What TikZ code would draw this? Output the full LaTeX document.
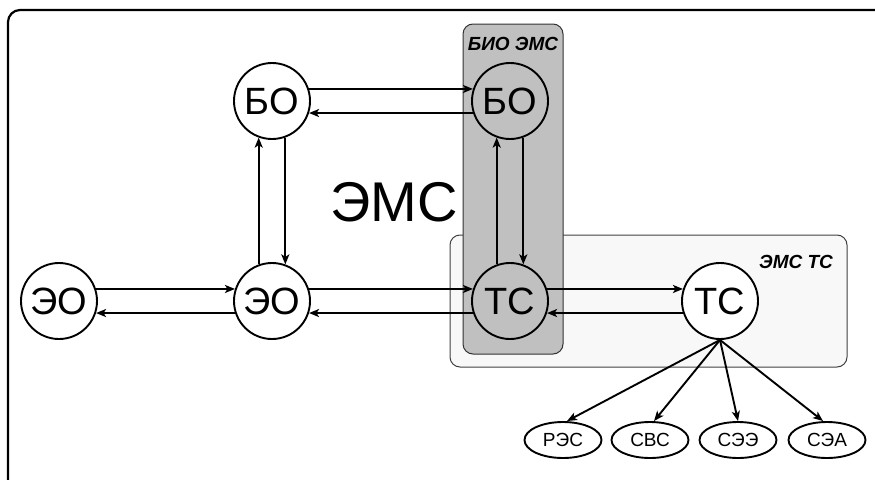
\documentclass[tikz,border=0pt]{standalone}
\usepackage{fontspec}
\setmainfont{Liberation Sans}
\usetikzlibrary{arrows.meta,shapes.geometric}
\definecolor{boxgray}{RGB}{192,192,192}
\definecolor{boxlight}{RGB}{248,248,248}
\begin{document}
\begin{tikzpicture}[x=1pt,y=-1pt,
  circ/.style={circle,draw,line width=1.9pt,minimum size=76pt,inner sep=0pt,font=\fontsize{38}{38}\selectfont},
  ell/.style={ellipse,draw,fill=white,line width=1.9pt,minimum width=77pt,minimum height=36pt,inner sep=0pt,font=\fontsize{19}{19}\selectfont},
  arr/.style={line width=1.9pt,-{Stealth[length=10pt,width=8pt,inset=2.5pt]}},
  lbl/.style={font=\fontsize{19}{19}\selectfont\bfseries\itshape,inner sep=0pt}
]
\useasboundingbox (0,0) rectangle (875,479);
\begin{scope}
\clip (0,0) rectangle (875,479);
\draw[line width=2.2pt, rounded corners=12pt] (8,10) rectangle (900,500);
\end{scope}
\draw[fill=boxlight, draw=black!75, line width=1pt, rounded corners=10pt] (450,235) rectangle (847,367);
\draw[fill=boxgray, draw=black!80, line width=1pt, rounded corners=10pt] (463,24) rectangle (563,354);

\node[lbl] (lbio) at (513,44) {БИО ЭМС};
\node[lbl] (lemstc) at (796,262) {ЭМС ТС};
\node[font=\fontsize{56}{56}\selectfont, inner sep=0pt] (ems) at (394,202) {ЭМС};

\node[circ,fill=white] (BO1) at (272,101) {БО};
\node[circ] (BO2) at (510,101) {БО};
\node[circ] (TC1) at (510,301) {ТС};
\node[circ,fill=white] (TC2) at (720,301) {ТС};
\node[circ,fill=white] (EO1) at (59,301) {ЭО};
\node[circ,fill=white] (EO2) at (272,301) {ЭО};

\node[ell] (E1) at (563,440) {РЭС};
\node[ell] (E2) at (650,440) {СВС};
\node[ell] (E3) at (738,440) {СЭЭ};
\node[ell] (E4) at (827,440) {СЭА};

% horizontal pairs
\draw[arr] (BO1.18) -- (BO2.162);
\draw[arr] (BO2.198) -- (BO1.342);
\draw[arr] (EO1.18) -- (EO2.162);
\draw[arr] (EO2.198) -- (EO1.342);
\draw[arr] (EO2.18) -- (TC1.162);
\draw[arr] (TC1.198) -- (EO2.342);
\draw[arr] (TC1.18) -- (TC2.162);
\draw[arr] (TC2.198) -- (TC1.342);
% vertical pairs
\draw[arr] (EO2.110) -- (BO1.250);
\draw[arr] (BO1.290) -- (EO2.70);
\draw[arr] (TC1.110) -- (BO2.250);
\draw[arr] (BO2.290) -- (TC1.70);
% fan-out
\draw[arr] (TC2.south) -- ([xshift=4pt]E1.north);
\draw[arr] (TC2.south) -- ([xshift=4pt]E2.north);
\draw[arr] (TC2.south) -- (E3.north);
\draw[arr] (TC2.south) -- ([xshift=-4pt]E4.north);
\end{tikzpicture}
\end{document}
